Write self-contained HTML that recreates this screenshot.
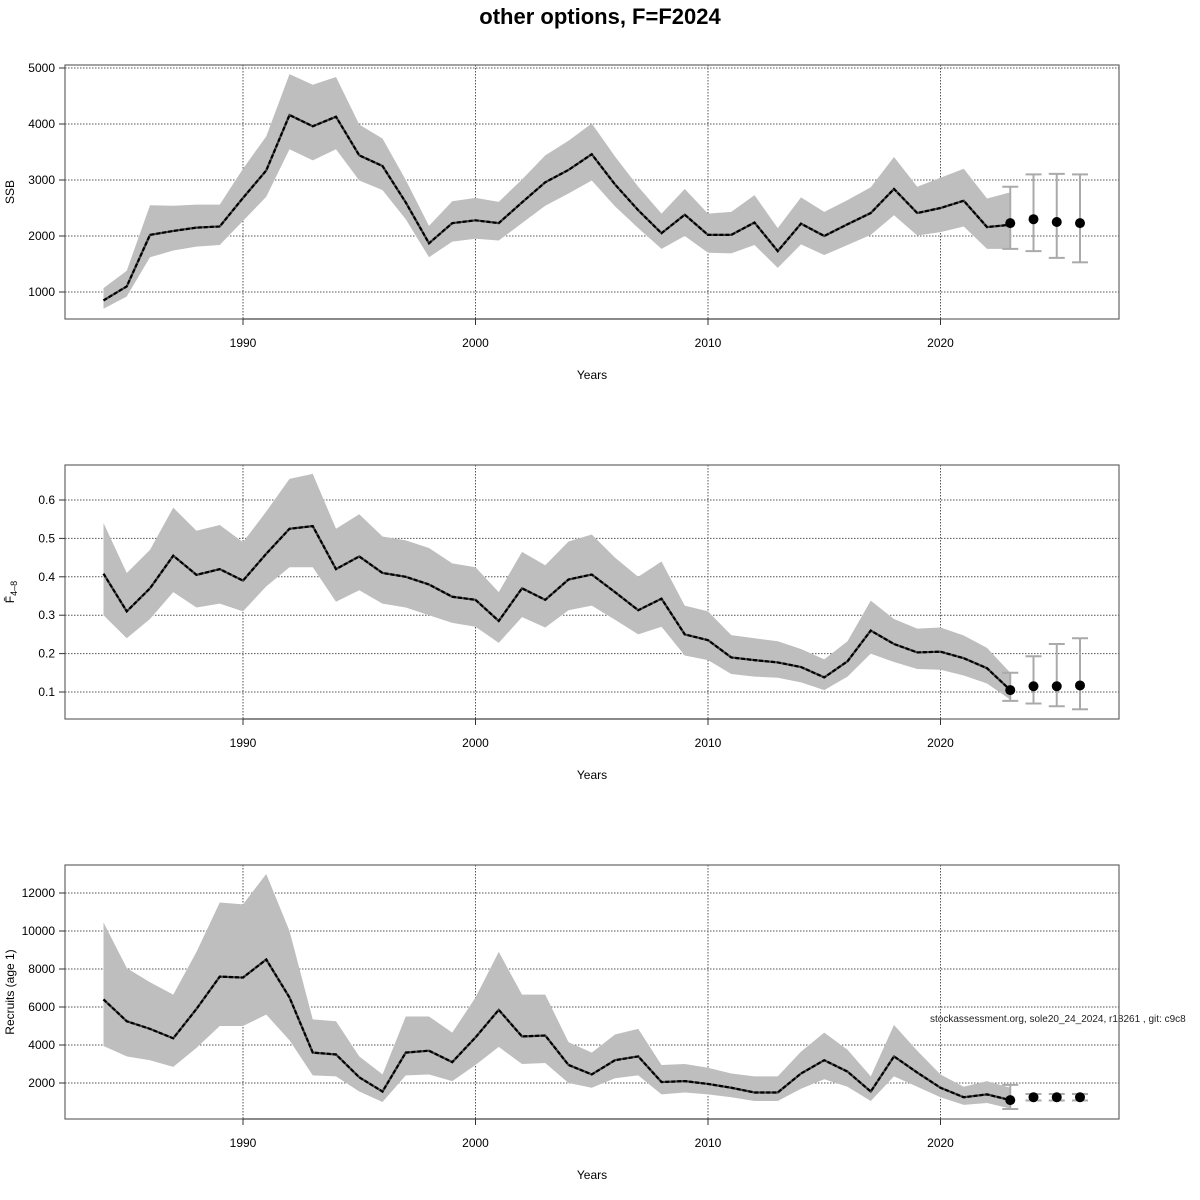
<!DOCTYPE html>
<html><head><meta charset="utf-8"><style>
body{margin:0;background:#fff;}
svg{display:block;font-family:"Liberation Sans",sans-serif;}
</style></head><body>
<svg id="chart" width="1200" height="1200" viewBox="0 0 1200 1200">
<text x="600" y="24" text-anchor="middle" font-size="22" font-weight="bold">other options, F=F2024</text>
<text x="930" y="1022" font-size="10" fill="#222">stockassessment.org, sole20_24_2024, r18261 , git: c9c8</text>
</svg>
<script>
const years = [1984,1985,1986,1987,1988,1989,1990,1991,1992,1993,1994,1995,1996,1997,1998,1999,2000,2001,2002,2003,2004,2005,2006,2007,2008,2009,2010,2011,2012,2013,2014,2015,2016,2017,2018,2019,2020,2021,2022,2023];
const projYears = [2023,2024,2025,2026];
const xTicks = [1990,2000,2010,2020];

const ssb = [850,1100,2020,2090,2150,2170,2680,3170,4160,3960,4130,3440,3250,2600,1870,2230,2280,2230,2600,2960,3180,3460,2920,2460,2050,2380,2020,2020,2240,1730,2220,2000,2210,2410,2840,2410,2500,2630,2160,2200];
const ssbLow = [700,920,1620,1740,1810,1840,2270,2700,3550,3350,3550,2990,2820,2300,1620,1900,1950,1920,2230,2540,2760,2990,2530,2140,1770,2000,1700,1690,1840,1430,1850,1660,1840,2020,2370,2010,2070,2170,1770,1770];
const ssbHigh = [1070,1380,2550,2540,2560,2560,3200,3780,4890,4700,4840,3990,3740,3000,2180,2620,2680,2610,3010,3440,3700,4010,3420,2880,2400,2840,2400,2430,2730,2140,2690,2430,2640,2870,3410,2880,3040,3200,2670,2780];
const ssbProj = [2230,2300,2250,2230];
const ssbProjLow = [1770,1730,1610,1530];
const ssbProjHigh = [2880,3100,3110,3100];
const ssbTicks = [1000,2000,3000,4000,5000];

const fbar = [0.408,0.31,0.37,0.455,0.405,0.42,0.39,0.46,0.525,0.532,0.42,0.453,0.41,0.40,0.38,0.348,0.34,0.285,0.37,0.34,0.393,0.406,0.36,0.313,0.343,0.25,0.235,0.19,0.183,0.177,0.165,0.138,0.18,0.26,0.225,0.203,0.205,0.188,0.162,0.105];
const fbarLow = [0.30,0.24,0.29,0.36,0.32,0.33,0.31,0.375,0.425,0.425,0.335,0.365,0.33,0.32,0.30,0.28,0.27,0.228,0.295,0.268,0.313,0.325,0.288,0.25,0.27,0.195,0.183,0.147,0.14,0.137,0.125,0.105,0.14,0.2,0.178,0.16,0.158,0.143,0.122,0.08];
const fbarHigh = [0.54,0.41,0.47,0.58,0.52,0.535,0.49,0.57,0.655,0.668,0.525,0.563,0.505,0.495,0.475,0.435,0.425,0.36,0.465,0.43,0.492,0.51,0.45,0.40,0.44,0.325,0.31,0.248,0.24,0.232,0.212,0.185,0.232,0.338,0.29,0.265,0.268,0.247,0.215,0.15];
const fbarProj = [0.105,0.115,0.115,0.117];
const fbarProjLow = [0.077,0.07,0.063,0.055];
const fbarProjHigh = [0.15,0.193,0.225,0.24];
const fbarTicks = [0.1,0.2,0.3,0.4,0.5,0.6];

const rec = [6400,5250,4850,4350,5900,7600,7550,8500,6500,3600,3500,2300,1550,3600,3700,3100,4400,5850,4450,4500,2950,2450,3200,3400,2050,2100,1950,1750,1500,1500,2500,3200,2600,1550,3400,2550,1750,1250,1400,1100];
const recLow = [3950,3400,3200,2850,3850,5000,5000,5600,4250,2400,2350,1550,1000,2400,2450,2100,2950,3900,3000,3050,2000,1750,2250,2400,1400,1500,1400,1250,1050,1050,1700,2200,1800,1050,2350,1800,1250,850,950,650];
const recHigh = [10450,8050,7300,6650,8900,11500,11400,13000,10000,5350,5250,3400,2450,5500,5500,4650,6500,8900,6650,6650,4150,3600,4550,4850,2950,3000,2800,2500,2350,2350,3650,4650,3750,2350,5050,3700,2450,1800,2100,1750];
const recProj = [1100,1250,1250,1250];
const recProjLow = [630,1080,1080,1080];
const recProjHigh = [1900,1420,1420,1420];
const recTicks = [2000,4000,6000,8000,10000,12000];

const NS='http://www.w3.org/2000/svg';
const svg=document.getElementById('chart');
function mk(tag,attrs,parent){const e=document.createElementNS(NS,tag);for(const k in attrs)e.setAttribute(k,attrs[k]);(parent||svg).appendChild(e);return e;}
const L=65,R=1119;
function xs(yr){return 243+(yr-1990)*23.25;}

function panel(name,top,yA,yB,vA,vB,ticks,fmt,mid,low,high,pm,pl,ph,ylabel,sub){
  const bottom=top+254;
  const ys=v=>yA+(v-vA)*(yB-yA)/(vB-vA);
  const g=mk('g',{});
  
  
  // grid
  ticks.forEach(t=>{const l=mk('line',{x1:L,x2:R,y1:ys(t),y2:ys(t),stroke:'#555','stroke-width':1,'stroke-dasharray':'1.5,1.5'},g);
    
    });
  xTicks.forEach(t=>{const l=mk('line',{x1:xs(t),x2:xs(t),y1:top,y2:bottom,stroke:'#555','stroke-width':1,'stroke-dasharray':'1.5,1.5'},g);
    
    });
  // band
  let d='';
  years.forEach((y,i)=>{d+=(i?'L':'M')+xs(y)+','+ys(high[i]);});
  for(let i=years.length-1;i>=0;i--)d+='L'+xs(years[i])+','+ys(low[i]);
  const band=mk('path',{d:d+'Z',fill:'#bebebe',stroke:'none'},g);
  
  
  const pts=years.map((y,i)=>xs(y)+','+ys(mid[i])).join(' ');
  const l1=mk('polyline',{points:pts,fill:'none',stroke:'#444','stroke-width':2.2},g);
  
  
  mk('polyline',{points:pts,fill:'none',stroke:'#000','stroke-width':2.2,'stroke-dasharray':'4,2'},g);
  // projections
  projYears.forEach((y,i)=>{
    const x=xs(y);
    const eb=mk('g',{stroke:'#aaa','stroke-width':2},g);
    
    
    mk('line',{x1:x,x2:x,y1:ys(pl[i]),y2:ys(ph[i])},eb);
    mk('line',{x1:x-8,x2:x+8,y1:ys(pl[i]),y2:ys(pl[i])},eb);
    mk('line',{x1:x-8,x2:x+8,y1:ys(ph[i]),y2:ys(ph[i])},eb);
    const c=mk('circle',{cx:x,cy:ys(pm[i]),r:5,fill:'#000'},g);
    
    
  });
  // box
  const box=mk('rect',{x:L,y:top,width:R-L,height:254,fill:'none',stroke:'#666','stroke-width':1.2},g);
  
  
  // y axis
  ticks.forEach(t=>{mk('line',{x1:L-6,x2:L,y1:ys(t),y2:ys(t),stroke:'#333'},g);
    const tx=mk('text',{x:L-10,y:ys(t)+4,'text-anchor':'end','font-size':12},g);
    
    
    tx.textContent=fmt(t);});
  // x axis
  mk('line',{x1:xs(1990),x2:xs(2020),y1:bottom,y2:bottom,stroke:'#333'},g);
  xTicks.forEach(t=>{mk('line',{x1:xs(t),x2:xs(t),y1:bottom,y2:bottom+6,stroke:'#333'},g);
    const tx=mk('text',{x:xs(t),y:bottom+28,'text-anchor':'middle','font-size':12},g);
    
    
    tx.textContent=t;});
  const xt=mk('text',{x:592,y:bottom+60,'text-anchor':'middle','font-size':12},g);
  
  
  xt.textContent='Years';
  const yt=mk('text',{x:0,y:0,'text-anchor':'middle','font-size':12,transform:'translate(14,'+(top+127)+') rotate(-90)'},g);
  
  
  yt.textContent=ylabel;
  if(sub){const ts=mk('tspan',{'font-size':9,dy:3},yt);ts.textContent=sub;}
}
panel('ssb',65,292,68,1000,5000,ssbTicks,t=>t,ssb,ssbLow,ssbHigh,ssbProj,ssbProjLow,ssbProjHigh,'SSB');
panel('fbar',465,692,500,0.1,0.6,fbarTicks,t=>t.toFixed(1),fbar,fbarLow,fbarHigh,fbarProj,fbarProjLow,fbarProjHigh,'F\u0304','4\u20138');
panel('recruits',865,1083,893,2000,12000,recTicks,t=>t,rec,recLow,recHigh,recProj,recProjLow,recProjHigh,'Recruits (age 1)');
</script>
</body></html>
